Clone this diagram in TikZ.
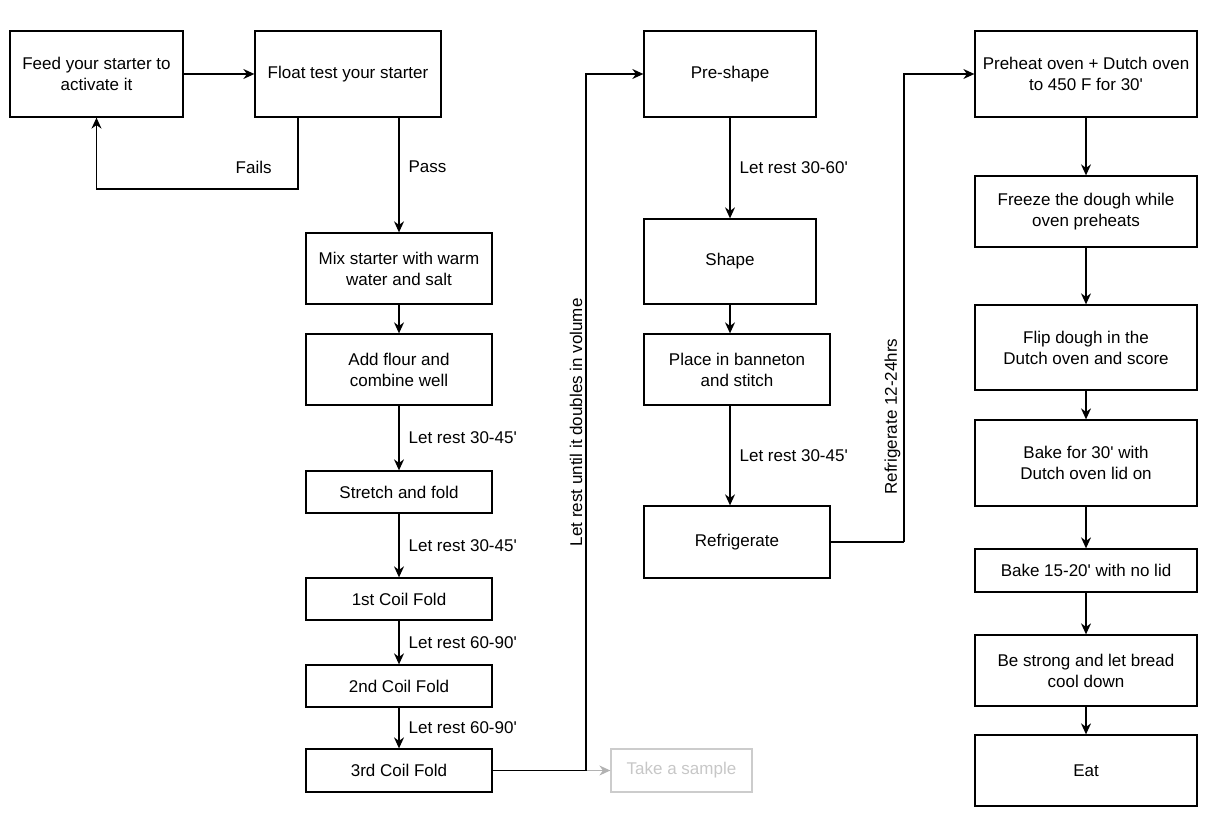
\documentclass[tikz,border=0pt]{standalone}
\usepackage{fontspec}
\setmainfont{Liberation Sans}[Ligatures=TeXOff]
\usetikzlibrary{positioning,arrows.meta}

\begin{document}
\begin{tikzpicture}[x=1pt,y=-1pt,>={Stealth[length=11pt,width=10pt]},
  line width=1.3pt,
  font=\fontsize{17}{21}\selectfont,
  box/.style={draw,align=center,inner sep=0pt},
  ghost/.style={draw=black!20,text=black!22,inner sep=0pt},
  lbl/.style={inner sep=3pt}]
  \useasboundingbox (0,0) rectangle (1212,826);
  % first column
  \node[box,minimum width=173,minimum height=86] (feed) at (96.5,74) {Feed your starter to\\activate it};
  \node[box,minimum width=186,minimum height=86] (float) at (348,74) {Float test your starter};
  \node[box,minimum width=186,minimum height=71] (mix) at (399,268.5) {Mix starter with warm\\water and salt};
  \node[box,minimum width=186,minimum height=71] (flour) at (399,369.5) {Add flour and\\combine well};
  \node[box,minimum width=186,minimum height=42] (stretch) at (399,492) {Stretch and fold};
  \node[box,minimum width=186,minimum height=42] (coila) at (399,599) {1st Coil Fold};
  \node[box,minimum width=186,minimum height=42] (coilb) at (399,686) {2nd Coil Fold};
  \node[box,minimum width=186,minimum height=43] (coilc) at (399,770.5) {3rd Coil Fold};
  \node[ghost,minimum width=141,minimum height=43] (sample) at (681.5,770.5) {Take a sample};
  % second column
  \node[box,minimum width=172,minimum height=86] (preshape) at (730,74) {Pre-shape};
  \node[box,minimum width=172,minimum height=85] (shape) at (730,261.5) {Shape};
  \node[box,minimum width=186,minimum height=71] (banneton) at (737,369.5) {Place in banneton\\and stitch};
  \node[box,minimum width=186,minimum height=72] (fridge) at (737,542) {Refrigerate};
  % third column
  \node[box,minimum width=222,minimum height=86] (preheat) at (1086,74) {Preheat oven + Dutch oven\\to 450 F for 30'};
  \node[box,minimum width=222,minimum height=71] (freeze) at (1086,211.5) {Freeze the dough while\\oven preheats};
  \node[box,minimum width=222,minimum height=85] (flip) at (1086,347.5) {Flip dough in the\\Dutch oven and score};
  \node[box,minimum width=222,minimum height=86] (bakea) at (1086,463) {Bake for 30' with\\Dutch oven lid on};
  \node[box,minimum width=222,minimum height=43] (bakeb) at (1086,570.5) {Bake 15-20' with no lid};
  \node[box,minimum width=222,minimum height=71] (cool) at (1086,670.5) {Be strong and let bread\\cool down};
  \node[box,minimum width=222,minimum height=71] (eat) at (1086,770.5) {Eat};

  \coordinate (failbend) at (298,189);
  \coordinate (split) at (586,770.5);
  \coordinate (chill) at (904,542);

  \draw[->] (feed) -- (float);
  \draw[->] (failbend |- float.south) -- (failbend) -| (feed.south)
    node[lbl,pos=0.11,above=12pt] {Fails};
  \draw[->] (float.south -| mix.north) -- (mix.north)
    node[lbl,pos=0.43,right=6pt] {Pass};
  \draw[->] (mix) -- (flour);
  \draw[->] (flour) -- (stretch) node[lbl,midway,right=6pt] {Let rest 30-45'};
  \draw[->] (stretch) -- (coila) node[lbl,midway,right=6pt] {Let rest 30-45'};
  \draw[->] (coila) -- (coilb) node[lbl,midway,right=6pt] {Let rest 60-90'};
  \draw[->] (coilb) -- (coilc) node[lbl,midway,right=6pt] {Let rest 60-90'};
  \draw (coilc) -- (split);
  \draw[->,black!30] (split) -- (sample);
  \draw[->] (split) |- (preshape)
    node[lbl,pos=0.25,rotate=90,anchor=south] {Let rest until it doubles in volume};
  \draw[->] (preshape) -- (shape) node[lbl,midway,right=6pt] {Let rest 30-60'};
  \draw[->] (shape.south) -- (shape.south |- banneton.north);
  \draw[->] (banneton.south -| shape.south) -- (fridge.north -| shape.south)
    node[lbl,midway,right=6pt] {Let rest 30-45'};
  \draw (fridge) -- (chill);
  \draw[->] (chill) |- (preheat)
    node[lbl,pos=0.134,rotate=90,anchor=south] {Refrigerate 12-24hrs};
  \draw[->] (preheat) -- (freeze);
  \draw[->] (freeze) -- (flip);
  \draw[->] (flip) -- (bakea);
  \draw[->] (bakea) -- (bakeb);
  \draw[->] (bakeb) -- (cool);
  \draw[->] (cool) -- (eat);
\end{tikzpicture}
\end{document}
